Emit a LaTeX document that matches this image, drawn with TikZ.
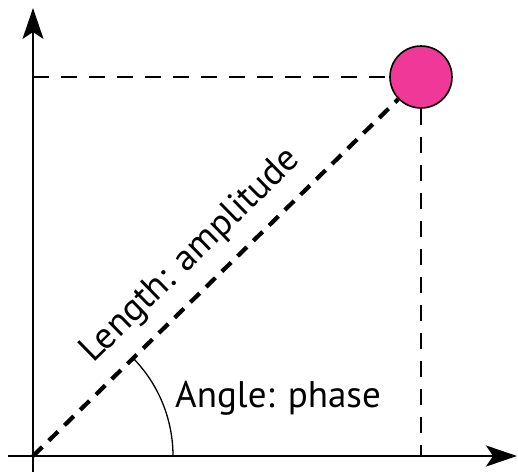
\documentclass[tikz,border=0pt]{standalone}
\usepackage{fontspec}
\setmainfont{PT Sans}
\usetikzlibrary{arrows.meta}
\definecolor{dotpink}{RGB}{240,56,152}
\begin{document}
\begin{tikzpicture}[x=1pt,y=-1pt,
  axis/.style={line width=2pt,-{Stealth[length=31pt,width=21pt,inset=7pt]}},
  guide/.style={line width=1.6pt,dash pattern=on 16pt off 12pt},
  vector/.style={line width=4.2pt,dash pattern=on 13pt off 9pt},
  lbl/.style={font=\fontsize{37}{40}\selectfont,inner sep=0pt}]
\useasboundingbox (0,0) rectangle (518,472);
\coordinate (O) at (33,456);
\coordinate (xs) at (8,456);
\coordinate (xe) at (517,456);
\coordinate (ys) at (33,472);
\coordinate (ye) at (33,8);
\coordinate (A0) at (173,456);
\coordinate (H) at (33,77);
\coordinate (V) at (421,456);
\node[circle,draw=black,line width=1.6pt,fill=dotpink,minimum size=62pt,inner sep=0pt] (P) at (421,77) {};
\draw[guide] (H) -- (P.west);
\draw[guide] (P.south) -- (V);
\draw[axis] (ys) -- (ye);
\draw[axis] (xs) -- (xe);
\draw[vector] (O) -- (P);
\draw[line width=1.3pt] (A0) arc[start angle=0,end angle=44.3,radius=140pt];
\node[lbl,rotate=44.3] (len) at (191,256) {Length: amplitude};
\node[lbl,anchor=base west] (ang) at (175,407) {Angle: phase};
\end{tikzpicture}
\end{document}
